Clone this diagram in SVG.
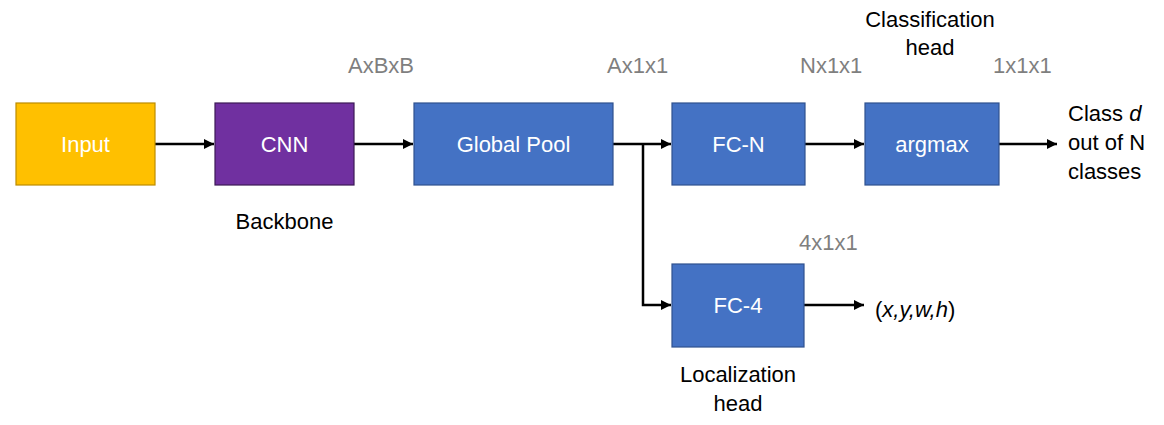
<svg xmlns="http://www.w3.org/2000/svg" width="1164" height="425" viewBox="0 0 1164 425">
  <defs>
    <marker id="arr" viewBox="0 0 10 10" refX="10" refY="5" markerWidth="4.2" markerHeight="4" markerUnits="strokeWidth" orient="auto">
      <path d="M0,0 L10,5 L0,10 z" fill="#000"/>
    </marker>
    <style>
      text { font-family: "Liberation Sans", Arial, sans-serif; font-size: 22px; }
      .box-label { fill: #ffffff; text-anchor: middle; }
      .dim { fill: #7f7f7f; }
      .lbl { fill: #000000; }
      .mid { text-anchor: middle; }
      .blue { fill: #4472c4; stroke: #2f528f; stroke-width: 1.2; }
      .conn { fill: none; stroke: #000; stroke-width: 2.5; }
      .it { font-style: italic; }
    </style>
  </defs>
  <rect width="1164" height="425" fill="#ffffff"/>

  <g id="connectors">
    <line class="conn" x1="155" y1="144" x2="214" y2="144" marker-end="url(#arr)"/>
    <line class="conn" x1="354" y1="144" x2="413" y2="144" marker-end="url(#arr)"/>
    <line class="conn" x1="613" y1="144" x2="671" y2="144" marker-end="url(#arr)"/>
    <line class="conn" x1="805" y1="144" x2="864" y2="144" marker-end="url(#arr)"/>
    <line class="conn" x1="999" y1="144" x2="1057" y2="144" marker-end="url(#arr)"/>
    <polyline class="conn" points="643,144 643,305 671,305" marker-end="url(#arr)"/>
    <line class="conn" x1="804" y1="305" x2="864" y2="305" marker-end="url(#arr)"/>
  </g>

  <g id="input">
    <rect x="16" y="103" width="139" height="82" fill="#ffc000" stroke="#bc8c00" stroke-width="1.2"/>
    <text class="box-label" x="85.5" y="152">Input</text>
  </g>

  <g id="cnn">
    <rect x="215" y="103" width="139" height="82" fill="#7030a0" stroke="#3c1a56" stroke-width="1.2"/>
    <text class="box-label" x="284.5" y="152">CNN</text>
  </g>

  <g id="global-pool">
    <rect class="blue" x="414" y="103" width="199" height="82"/>
    <text class="box-label" x="513.5" y="152">Global Pool</text>
  </g>

  <g id="fc-n">
    <rect class="blue" x="672" y="103" width="133" height="82"/>
    <text class="box-label" x="738.5" y="152">FC-N</text>
  </g>

  <g id="argmax">
    <rect class="blue" x="865" y="103" width="134" height="82"/>
    <text class="box-label" x="932" y="152">argmax</text>
  </g>

  <g id="fc-4">
    <rect class="blue" x="672" y="264" width="132" height="83"/>
    <text class="box-label" x="738" y="313">FC-4</text>
  </g>

  <g id="labels">
    <text class="dim" x="348" y="73">AxBxB</text>
    <text class="dim" x="607" y="73">Ax1x1</text>
    <text class="dim" x="800" y="73">Nx1x1</text>
    <text class="dim" x="993" y="73">1x1x1</text>
    <text class="dim" x="799" y="250">4x1x1</text>

    <text class="lbl mid" x="284.5" y="229">Backbone</text>

    <text class="lbl mid" x="930" y="27">Classification</text>
    <text class="lbl mid" x="930" y="55">head</text>

    <text class="lbl mid" x="738" y="382">Localization</text>
    <text class="lbl mid" x="738" y="411">head</text>

    <text class="lbl" x="1068" y="121">Class <tspan class="it">d</tspan></text>
    <text class="lbl" x="1068" y="150">out of N</text>
    <text class="lbl" x="1068" y="179">classes</text>

    <text class="lbl" x="875" y="317">(<tspan class="it">x,y,w,h</tspan>)</text>
  </g>
</svg>
